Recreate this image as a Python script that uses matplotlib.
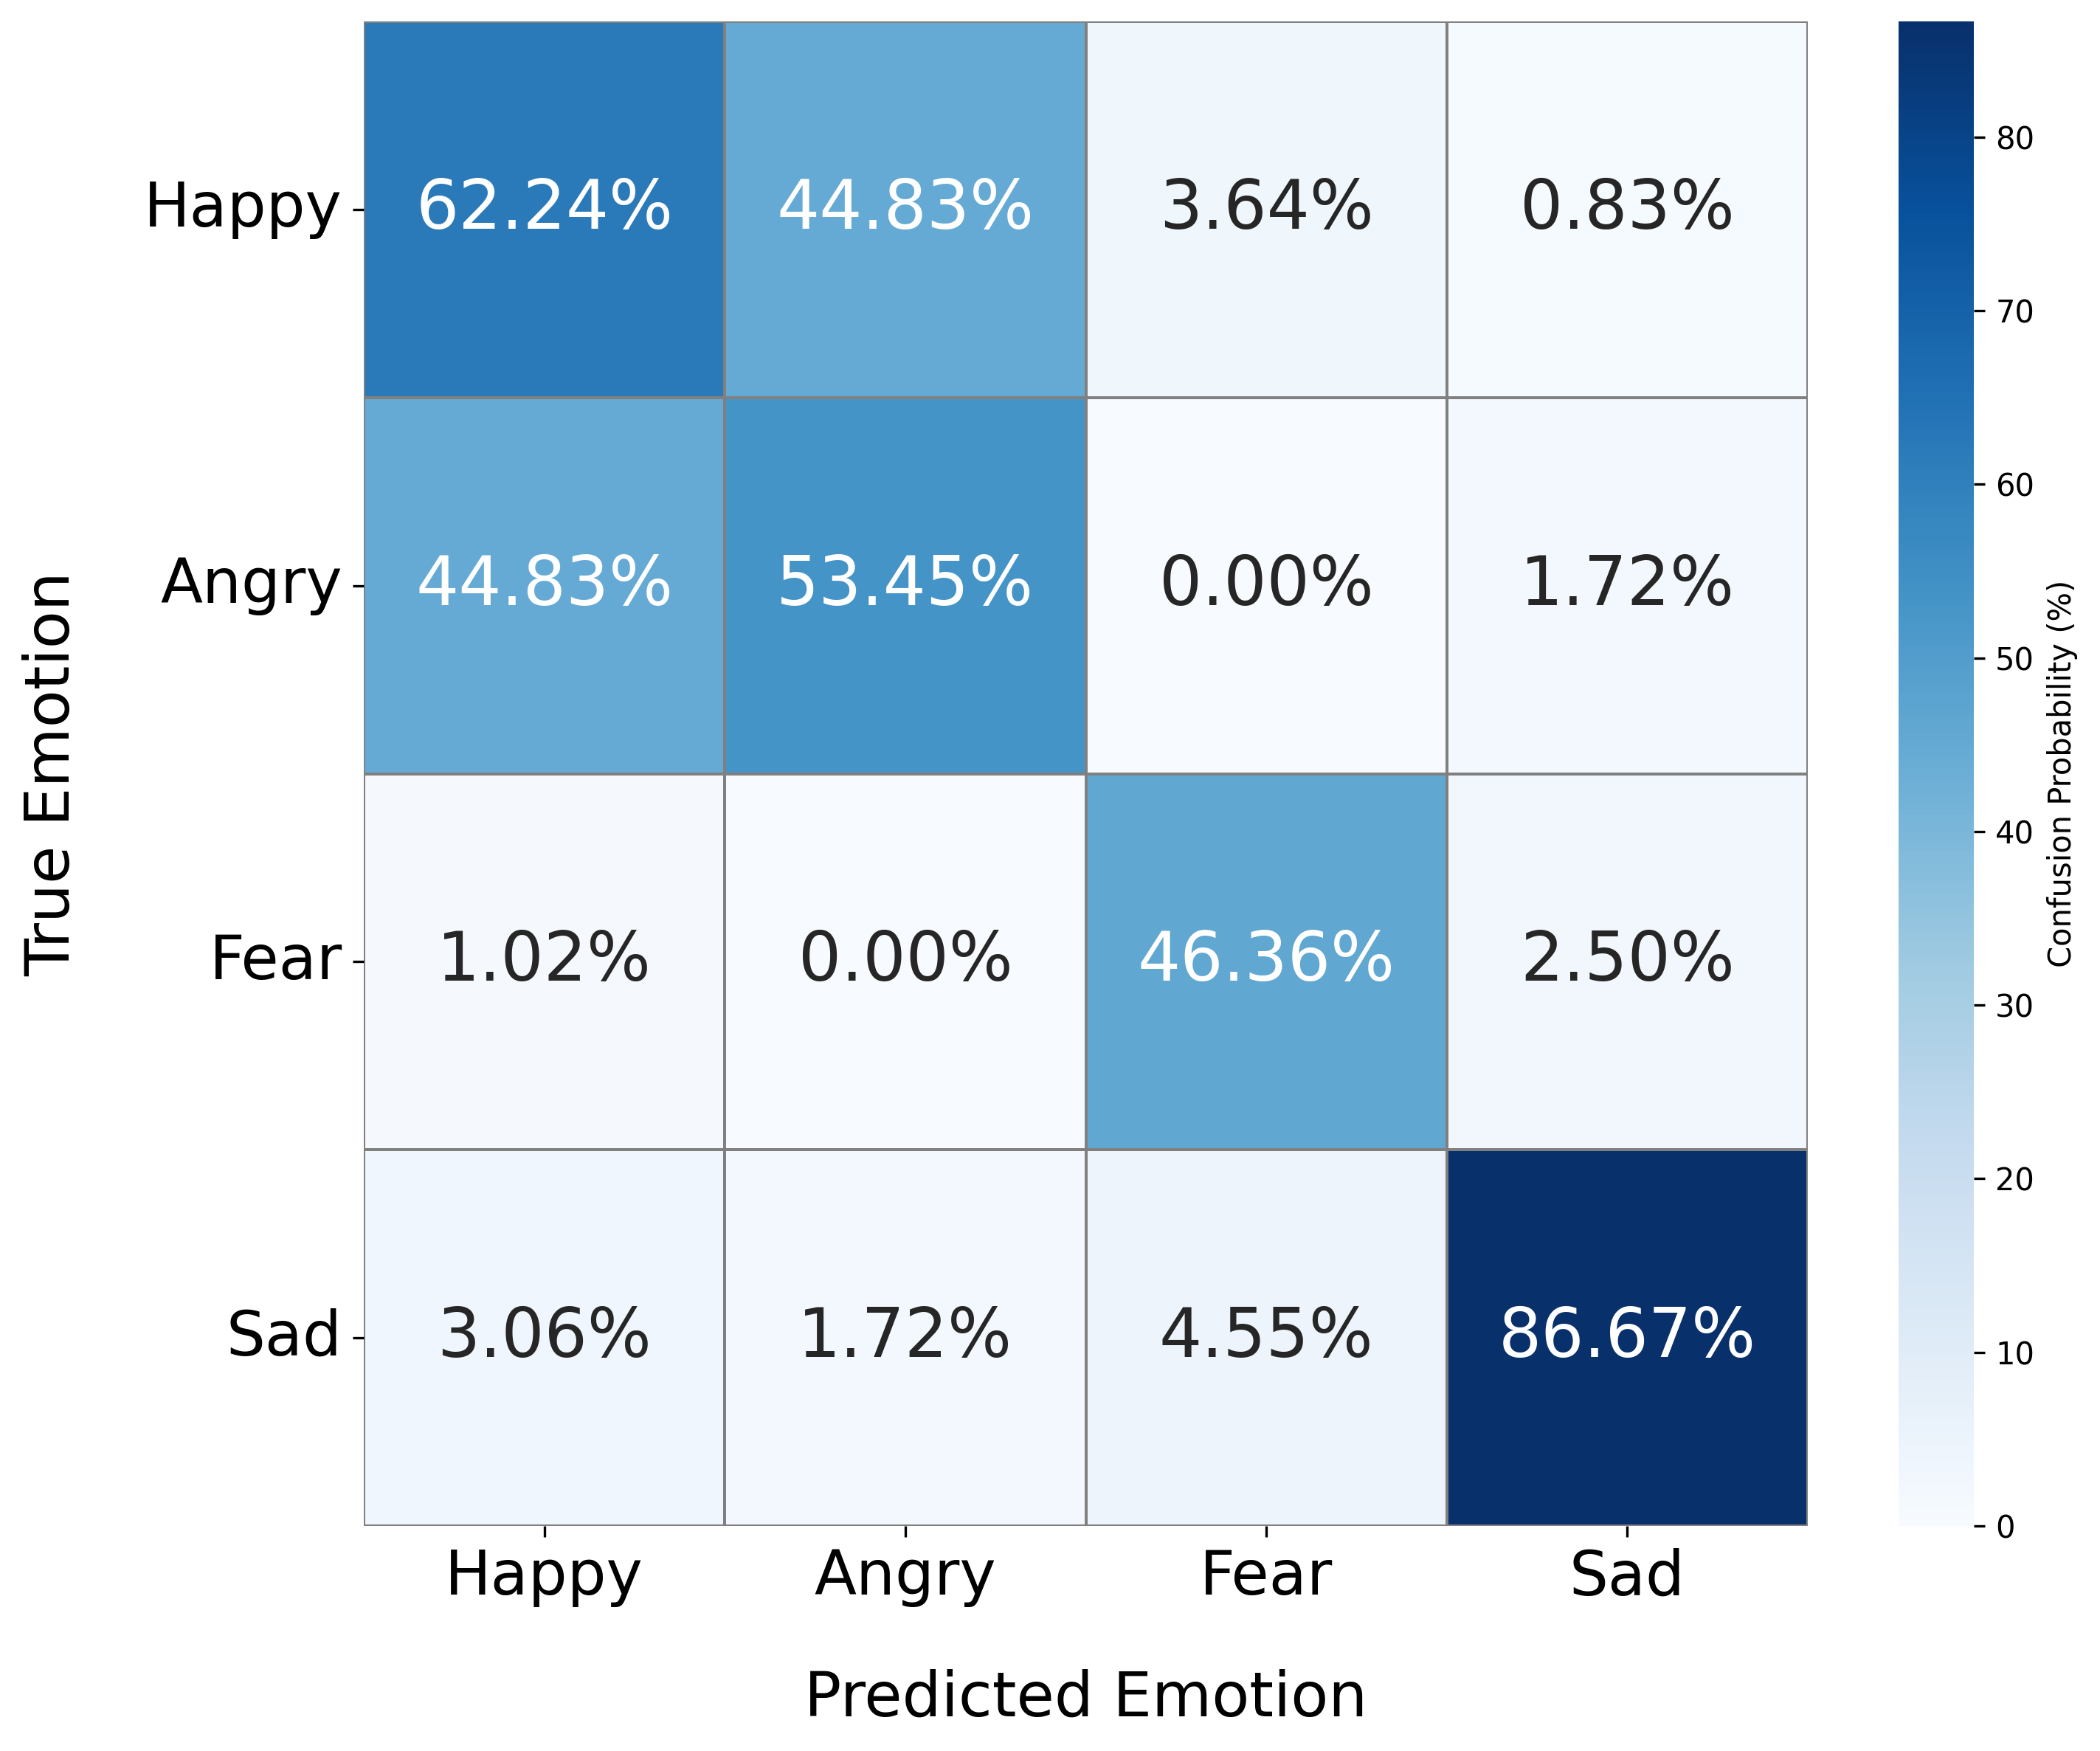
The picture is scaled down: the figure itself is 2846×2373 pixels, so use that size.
import numpy as np
import matplotlib
matplotlib.use('Agg')
import matplotlib.pyplot as plt
import seaborn as sns

emotions = ['Happy', 'Angry', 'Fear', 'Sad']

# confusion probabilities in %, rows = true, cols = predicted
happy_row = [62.24, 44.83, 3.64, 0.83]
angry_row = [44.83, 53.45, 0.00, 1.72]
fear_row = [1.02, 0.00, 46.36, 2.50]
sad_row = [3.06, 1.72, 4.55, 86.67]

cm = np.array([happy_row, angry_row, fear_row, sad_row])
labels = np.array([['%.2f%%' % v for v in row] for row in cm])

W, H = 2846, 2373
dpi = 300
fig = plt.figure(figsize=(W / dpi, H / dpi), dpi=dpi)

ax = fig.add_axes([493 / W, 1 - 2068 / H, (2450 - 493) / W, (2068 - 29) / H])
cax = fig.add_axes([2573 / W, 1 - 2068 / H, (2675 - 2573) / W, (2068 - 29) / H])

sns.heatmap(cm, annot=labels, fmt='', cmap='Blues', ax=ax, cbar_ax=cax,
            linewidths=0.5, linecolor='gray',
            xticklabels=emotions, yticklabels=emotions,
            annot_kws={'size': 22},
            cbar_kws={'label': 'Confusion Probability (%)'})

ax.set_xlabel('Predicted Emotion', fontsize=20, labelpad=20)
ax.set_ylabel('True Emotion', fontsize=20, labelpad=20)
ax.tick_params(axis='both', labelsize=20)
plt.setp(ax.get_yticklabels(), rotation=0)
plt.setp(ax.get_xticklabels(), rotation=0)

cax.tick_params(labelsize=10)
cax.yaxis.label.set_size(10)

fig.savefig('out.png', dpi=dpi)
